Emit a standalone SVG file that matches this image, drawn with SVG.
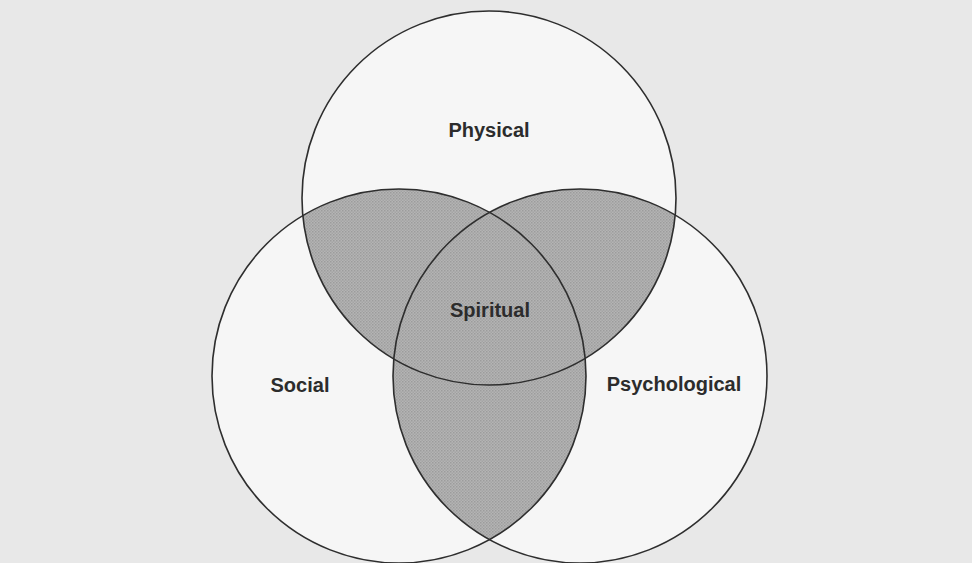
<svg xmlns="http://www.w3.org/2000/svg" width="972" height="563" viewBox="0 0 972 563">
  <style>
    .fill { fill: #f6f6f6; stroke: none; }
    .ring { fill: none; stroke: #2e2e2e; stroke-width: 1.6; }
    .shade { fill: url(#dots); stroke: none; }
    .lbl { font-family: "Liberation Sans", Arial, Helvetica, sans-serif; font-weight: bold; font-size: 20px; fill: #2c2c2c; text-anchor: middle; }
  </style>
  <defs>
    <pattern id="dots" width="3" height="3" patternUnits="userSpaceOnUse">
      <rect width="3" height="3" fill="#b4b4b4"/>
      <rect width="1.5" height="1.5" fill="#9c9c9c"/>
      <rect x="1.5" y="1.5" width="1.5" height="1.5" fill="#a4a4a4"/>
    </pattern>
    <clipPath id="clipTop"><circle cx="489" cy="198" r="187"/></clipPath>
    <clipPath id="clipLeft"><circle cx="399" cy="376" r="187"/></clipPath>
    <clipPath id="clipRight"><circle cx="580" cy="376" r="187"/></clipPath>
  </defs>

  <rect x="0" y="0" width="972" height="563" fill="#e8e8e8"/>

  <g id="fills">
    <circle class="fill" cx="489" cy="198" r="187"/>
    <circle class="fill" cx="399" cy="376" r="187"/>
    <circle class="fill" cx="580" cy="376" r="187"/>
  </g>

  <g id="overlaps">
    <circle class="shade" cx="489" cy="198" r="187" clip-path="url(#clipLeft)"/>
    <circle class="shade" cx="489" cy="198" r="187" clip-path="url(#clipRight)"/>
    <circle class="shade" cx="399" cy="376" r="187" clip-path="url(#clipRight)"/>
  </g>

  <g id="connectors"></g>

  <g id="physical">
    <circle class="ring" cx="489" cy="198" r="187"/>
    <text class="lbl" x="489" y="137">Physical</text>
  </g>
  <g id="social">
    <circle class="ring" cx="399" cy="376" r="187"/>
    <text class="lbl" x="300" y="392">Social</text>
  </g>
  <g id="psychological">
    <circle class="ring" cx="580" cy="376" r="187"/>
    <text class="lbl" x="674" y="391">Psychological</text>
  </g>
  <g id="spiritual">
    <text class="lbl" x="490" y="317">Spiritual</text>
  </g>
</svg>
